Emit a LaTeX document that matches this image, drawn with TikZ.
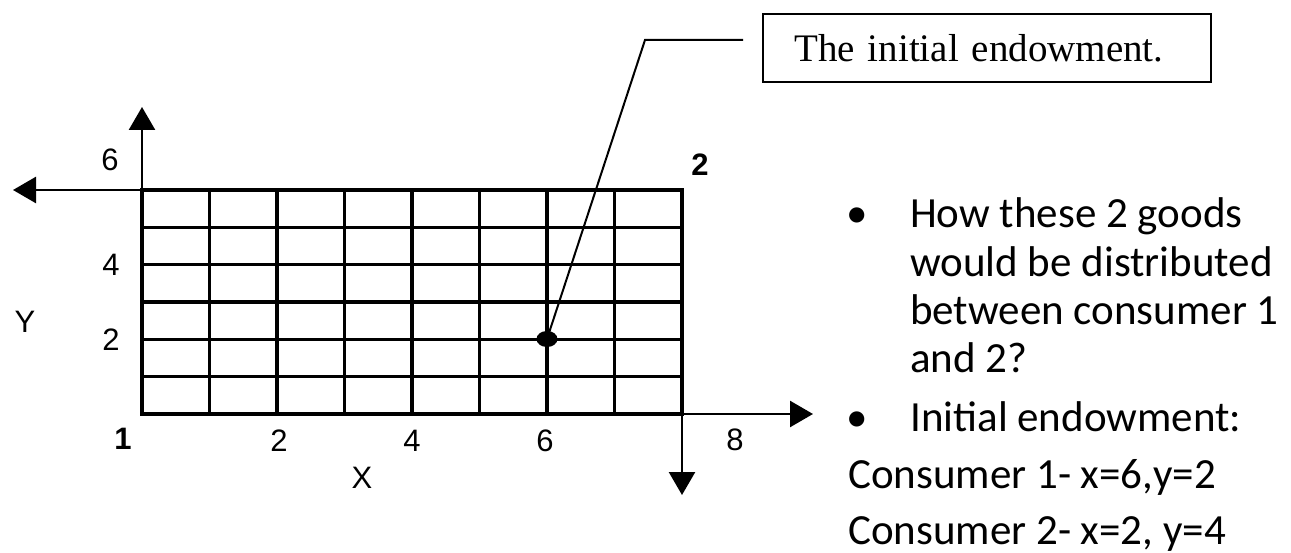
\documentclass[tikz,border=0pt]{standalone}
\usepackage{fontspec}
\setmainfont{Liberation Serif}
\newfontfamily\arialf{Liberation Sans}
\newfontfamily\calf{Carlito}
\usetikzlibrary{arrows.meta,shapes.geometric}
\begin{document}
\begin{tikzpicture}[x=1pt,y=-1pt,
  gridline/.style={line width=3.6pt},
  midline/.style={line width=2.4pt},
  axisline/.style={line width=2.6pt,-{Triangle[length=23pt,width=26pt]}},
  lab/.style={font=\arialf\fontsize{31}{31}\selectfont, inner sep=0pt},
  blab/.style={font=\arialf\bfseries\fontsize{31}{31}\selectfont, inner sep=0pt},
  txt/.style={font=\calf\fontsize{43}{48}\selectfont, anchor=base west, inner sep=0pt},
  bul/.style={font=\calf\fontsize{43}{48}\selectfont, anchor=base, inner sep=0pt},
  callout/.style={line width=2pt},
]
\useasboundingbox (0,0) rectangle (1291,553);

% origins and axis tips
\coordinate (O1) at (142,414);
\coordinate (O2) at (682,190);
\coordinate (ytip) at (142,107);
\coordinate (xtip) at (813,414);
\coordinate (xtipB) at (13,190);
\coordinate (ytipB) at (682,495);

% grid
\foreach \k in {1,...,7}
  \draw[gridline] ({142+67.5*\k},190) -- ({142+67.5*\k},414);
\foreach \j in {1,2,3,5}
  \draw[gridline] (142,{190+224/6*\j}) -- (682,{190+224/6*\j});
\draw[midline] (142,{190+224/6*4}) -- (682,{190+224/6*4});
\draw[gridline, line cap=rect] (O1) rectangle (O2);

% axes
\draw[axisline] (O1) -- (ytip);
\draw[axisline] (O1) -- (xtip);
\draw[axisline] (O2) -- (xtipB);
\draw[axisline] (O2) -- (ytipB);

% axis labels
\node[lab] (y6) at (110,160) {6};
\node[lab] (y4) at (111,265) {4};
\node[lab] (y2) at (111,340) {2};
\node[lab] (Ylab) at (25,322) {Y};
\node[blab] (one) at (123,439) {1};
\node[lab] (x2) at (279,441) {2};
\node[lab] (x4) at (412,441) {4};
\node[lab] (x6) at (545,441) {6};
\node[lab] (x8) at (735,440) {8};
\node[lab] (Xlab) at (362,478) {X};
\node[blab] (two) at (700,165) {2};

% endowment point and callout
\node[ellipse, fill=black, inner sep=0pt, minimum width=21pt, minimum height=16pt] (dot) at (547,339) {};
\node[draw, line width=2.4pt, anchor=north west, minimum height=68pt,
      inner xsep=31pt, inner ysep=0pt, text width=386pt, align=left,
      font=\fontsize{39}{44}\selectfont] (box) at (762,13) {The initial endowment.};
\coordinate (bend) at (645,40);
\coordinate (cend) at (743,40);
\draw[callout] (dot.center) -- (bend) -- (cend);

% right-hand text
\node[bul] (bul1) at (857,228) {•};
\node[txt] (t1) at (910,228) {How these 2 goods};
\node[txt] (t2) at (910,277) {would be distributed};
\node[txt] (t3) at (910,325) {between consumer 1};
\node[txt] (t4) at (910,373) {and 2?};
\node[bul] (bul2) at (857,431) {•};
\node[txt] (t5) at (910,431) {Initial endowment:};
\node[txt] (t6) at (848,488) {Consumer 1- x=6,y=2};
\node[txt] (t7) at (848,544) {Consumer 2- x=2, y=4};
\end{tikzpicture}
\end{document}
